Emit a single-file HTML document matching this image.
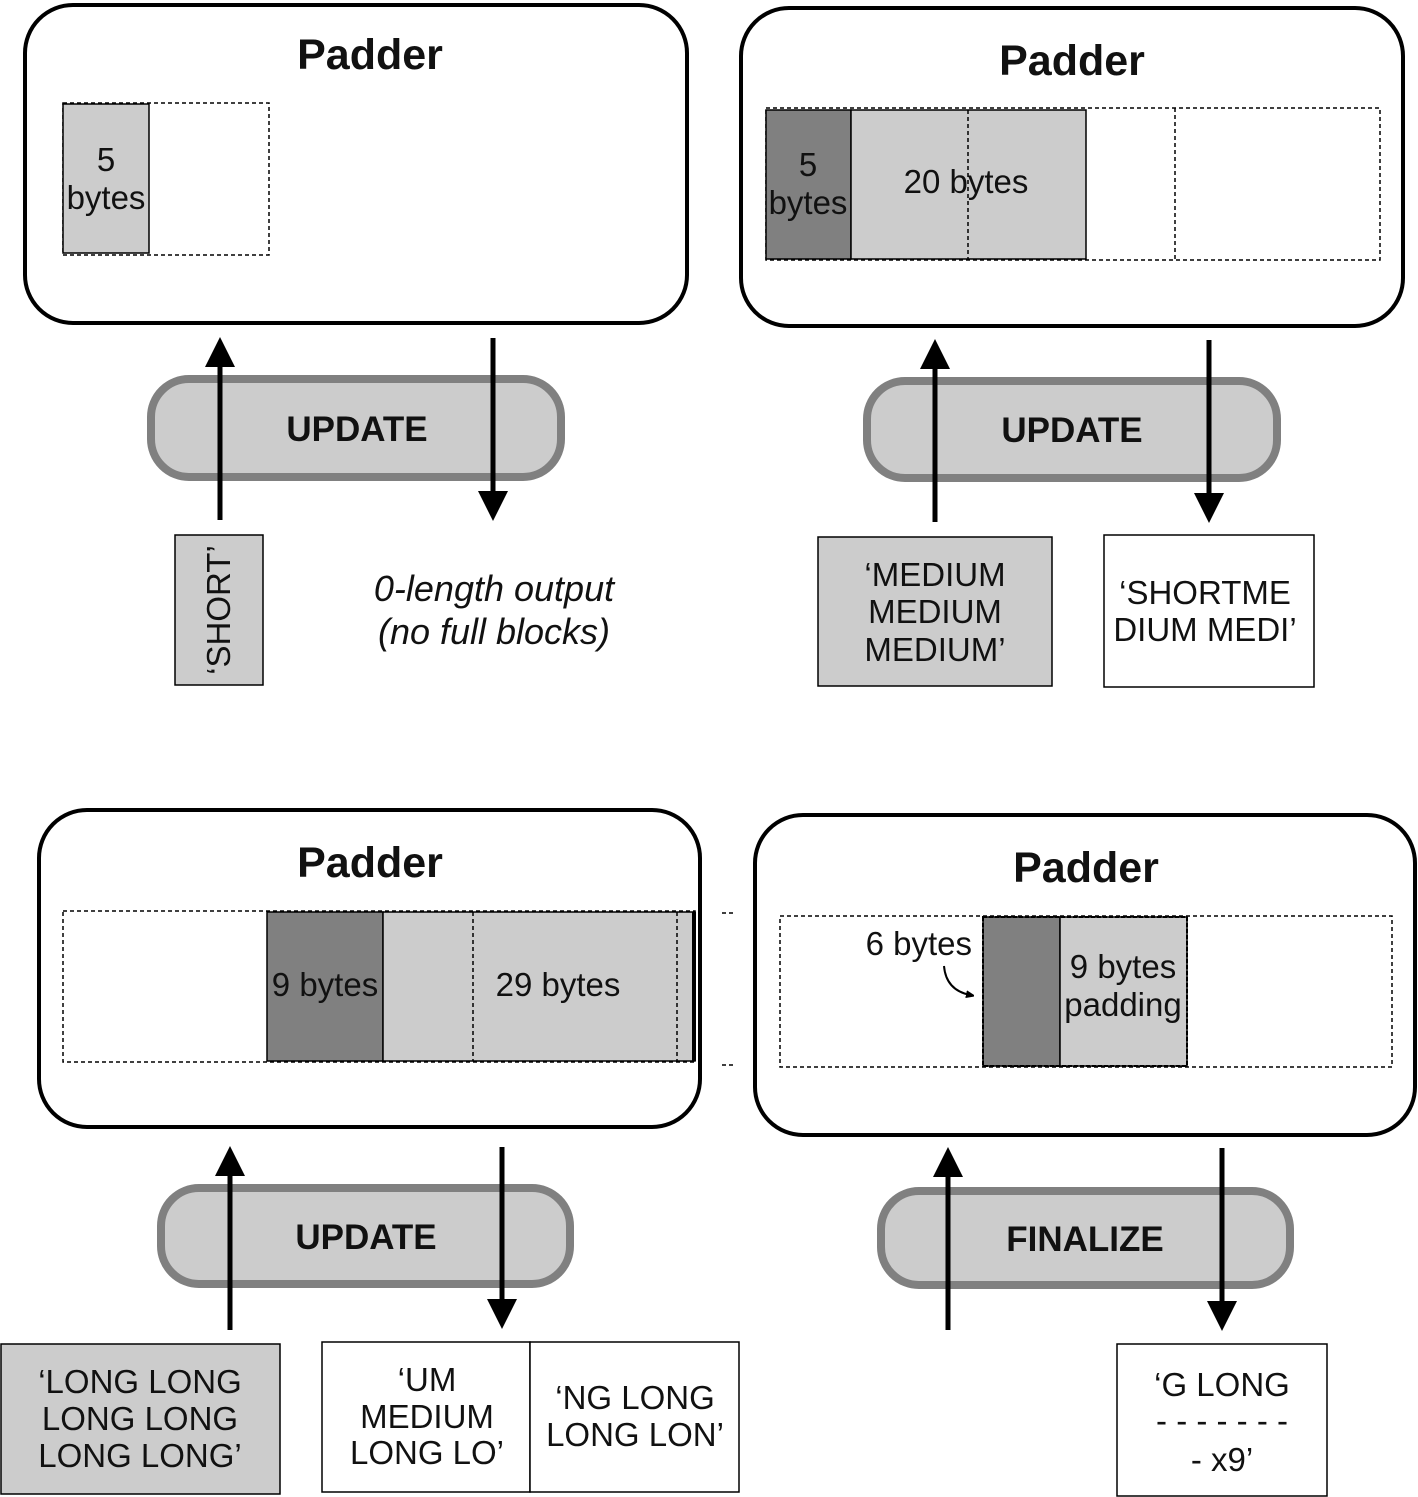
<!DOCTYPE html>
<html><head><meta charset="utf-8"><style>
html,body{margin:0;padding:0;background:#fff}
svg{display:block}
text{font-family:"Liberation Sans",Arial,sans-serif;fill:#111}
.t{font-size:43px;font-weight:bold;text-anchor:middle}
.u{font-size:35px;font-weight:bold;text-anchor:middle}
.s{font-size:33px;text-anchor:middle}
</style></head><body>
<svg width="1418" height="1497" viewBox="0 0 1418 1497" xmlns="http://www.w3.org/2000/svg">
<defs>
<marker id="ah" markerWidth="6" markerHeight="6" refX="3" refY="3" orient="auto" markerUnits="strokeWidth">
<path d="M0,0 L6,3 L0,6 z" fill="#000"/></marker>
<marker id="sa" markerWidth="8" markerHeight="8" refX="4" refY="4" orient="auto" markerUnits="userSpaceOnUse">
<path d="M0,0 L10,4 L0,8 z" fill="#000"/></marker>
</defs>
<g fill="none" stroke="#000" stroke-width="4">
<rect x="25" y="5" width="662" height="318" rx="48"/>
<rect x="741" y="8" width="662" height="318" rx="48"/>
<rect x="39" y="810" width="661" height="317" rx="48"/>
<rect x="755" y="815" width="660" height="320" rx="48"/>
</g>
<text class="t" x="370" y="69">Padder</text>
<text class="t" x="1072" y="75">Padder</text>
<text class="t" x="370" y="877">Padder</text>
<text class="t" x="1086" y="882">Padder</text>

<rect x="63" y="103" width="206" height="152" fill="none" stroke="#000" stroke-width="1.5" stroke-dasharray="4,3"/>
<rect x="63" y="104" width="86" height="149" fill="#ccc" stroke="#000" stroke-width="1.5"/>
<text class="s" x="106" y="171">5</text><text class="s" x="106" y="209">bytes</text>

<rect x="766" y="108" width="614" height="152" fill="none" stroke="#000" stroke-width="1.5" stroke-dasharray="4,3"/>
<line x1="1175" y1="108" x2="1175" y2="260" stroke="#000" stroke-width="1.5" stroke-dasharray="4,3"/>
<rect x="766" y="110" width="85" height="149" fill="#808080" stroke="#000" stroke-width="1.5"/>
<rect x="851" y="110" width="235" height="149" fill="#ccc" stroke="#000" stroke-width="1.5"/>
<line x1="968" y1="110" x2="968" y2="259" stroke="#000" stroke-width="1.5" stroke-dasharray="4,3"/>
<text class="s" x="808" y="176">5</text><text class="s" x="808" y="214">bytes</text>
<text class="s" x="966" y="193">20 bytes</text>

<rect x="63" y="911" width="632" height="151" fill="none" stroke="#000" stroke-width="1.5" stroke-dasharray="4,3"/>
<rect x="267" y="912" width="116" height="149" fill="#808080" stroke="#000" stroke-width="1.5"/>
<rect x="383" y="912" width="312" height="149" fill="#ccc" stroke="#000" stroke-width="1.5"/>
<line x1="473" y1="912" x2="473" y2="1061" stroke="#000" stroke-width="1.5" stroke-dasharray="4,3"/>
<line x1="677" y1="912" x2="677" y2="1061" stroke="#000" stroke-width="1.5" stroke-dasharray="4,3"/>
<line x1="694" y1="912" x2="694" y2="1061" stroke="#000" stroke-width="4"/>
<line x1="722" y1="913" x2="736" y2="913" stroke="#000" stroke-width="1.5" stroke-dasharray="4,3"/>
<line x1="722" y1="1065" x2="736" y2="1065" stroke="#000" stroke-width="1.5" stroke-dasharray="4,3"/>
<text class="s" x="325" y="996">9 bytes</text>
<text class="s" x="558" y="996">29 bytes</text>

<rect x="780" y="916" width="612" height="151" fill="none" stroke="#000" stroke-width="1.5" stroke-dasharray="4,3"/>
<rect x="983" y="917" width="77" height="149" fill="#808080" stroke="#000" stroke-width="1.5"/>
<rect x="1060" y="917" width="127" height="149" fill="#ccc" stroke="#000" stroke-width="1.5"/>
<rect x="983" y="917" width="204" height="149" fill="none" stroke="#000" stroke-width="2" stroke-dasharray="4,2"/>
<text class="s" x="972" y="955" style="text-anchor:end">6 bytes</text>
<path d="M944,966 Q946,990 970,995" fill="none" stroke="#000" stroke-width="2" marker-end="url(#sa)"/>
<text class="s" x="1123" y="978">9 bytes</text><text class="s" x="1123" y="1016">padding</text>

<g fill="#ccc" stroke="#808080" stroke-width="8">
<rect x="151" y="379" width="410" height="98" rx="38"/>
<rect x="867" y="381" width="410" height="97" rx="38"/>
<rect x="161" y="1188" width="409" height="96" rx="38"/>
<rect x="881" y="1191" width="409" height="94" rx="38"/>
</g>
<text class="u" x="357" y="441">UPDATE</text>
<text class="u" x="1072" y="442">UPDATE</text>
<text class="u" x="366" y="1249">UPDATE</text>
<text class="u" x="1085" y="1251">FINALIZE</text>

<g stroke="#000" stroke-width="5" marker-end="url(#ah)">
<line x1="220" y1="520" x2="220" y2="352"/>
<line x1="493" y1="338" x2="493" y2="506"/>
<line x1="935" y1="522" x2="935" y2="354"/>
<line x1="1209" y1="340" x2="1209" y2="508"/>
<line x1="230" y1="1330" x2="230" y2="1161"/>
<line x1="502" y1="1147" x2="502" y2="1314"/>
<line x1="948" y1="1330" x2="948" y2="1162"/>
<line x1="1222" y1="1148" x2="1222" y2="1316"/>
</g>

<rect x="175" y="535" width="88" height="150" fill="#ccc" stroke="#000" stroke-width="1.5"/>
<text class="s" transform="translate(230,610) rotate(-90)">‘SHORT’</text>
<text class="s" x="494" y="601" font-style="italic" style="font-size:36px">0-length output</text>
<text class="s" x="494" y="644" font-style="italic" style="font-size:36px">(no full blocks)</text>

<rect x="818" y="537" width="234" height="149" fill="#ccc" stroke="#000" stroke-width="1.5"/>
<text class="s" x="935" y="586">‘MEDIUM</text><text class="s" x="935" y="623">MEDIUM</text><text class="s" x="935" y="661">MEDIUM’</text>
<rect x="1104" y="535" width="210" height="152" fill="#fff" stroke="#000" stroke-width="1.5"/>
<text class="s" x="1205" y="604">‘SHORTME</text><text class="s" x="1205" y="641">DIUM MEDI’</text>

<rect x="1" y="1344" width="279" height="150" fill="#ccc" stroke="#000" stroke-width="1.5"/>
<text class="s" x="140" y="1393">‘LONG LONG</text><text class="s" x="140" y="1430">LONG LONG</text><text class="s" x="140" y="1467">LONG LONG’</text>
<rect x="322" y="1342" width="208" height="150" fill="#fff" stroke="#000" stroke-width="1.5"/>
<rect x="530" y="1342" width="209" height="150" fill="#fff" stroke="#000" stroke-width="1.5"/>
<text class="s" x="427" y="1391">‘UM</text><text class="s" x="427" y="1428">MEDIUM</text><text class="s" x="427" y="1464">LONG LO’</text>
<text class="s" x="635" y="1409">‘NG LONG</text><text class="s" x="635" y="1446">LONG LON’</text>

<rect x="1117" y="1344" width="210" height="152" fill="#fff" stroke="#000" stroke-width="1.5"/>
<text class="s" x="1222" y="1396">‘G LONG</text>
<text class="s" x="1222" y="1432">- - - - - - -</text>
<text class="s" x="1222" y="1471">- x9’</text>
</svg>
</body></html>
